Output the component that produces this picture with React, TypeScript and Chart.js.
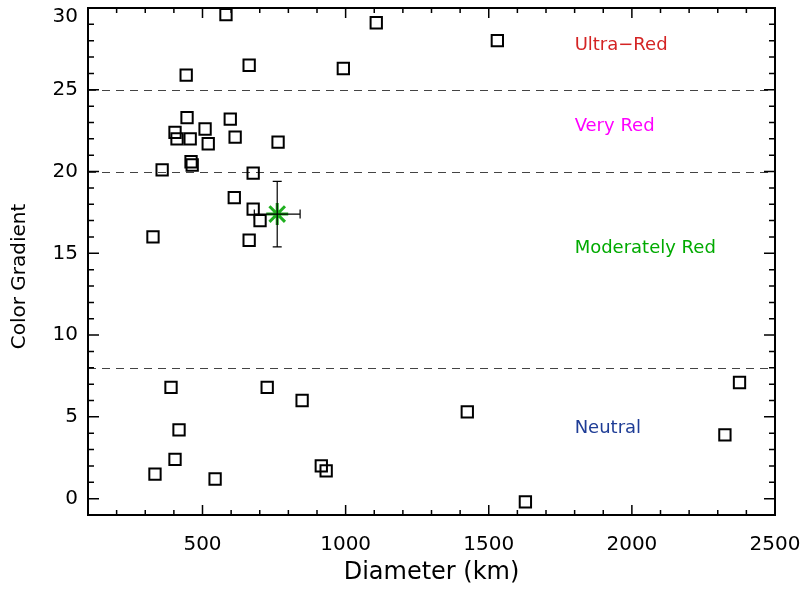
import React, { useEffect, useRef } from "react";
import { Chart, registerables } from "chart.js";

Chart.register(...registerables);

// Diameter (km) and color gradient of the objects (squares)
const diameters = [
  582, 1107, 1530, 663, 992, 443, 446, 597, 404, 509, 411, 457, 614, 520, 764,
  460, 464, 359, 677, 611, 677, 701, 663, 327, 390, 726, 848, 418, 404, 334,
  544, 915, 932, 1425, 1628, 2325, 2376,
];
const gradients = [
  29.6, 29.1, 28.0, 26.5, 26.3, 25.9, 23.3, 23.2, 22.4, 22.6, 22.0, 22.0, 22.1,
  21.7, 21.8, 20.6, 20.4, 20.1, 19.9, 18.4, 17.7, 17.0, 15.8, 16.0, 6.8, 6.8,
  6.0, 4.2, 2.4, 1.5, 1.2, 2.0, 1.7, 5.3, -0.2, 3.9, 7.1,
];

// Highlighted object (green star) with error bars
const starDiameter = [761];
const starGradient = [17.4];
const starDiameterErr = [80];
const starGradientErr = [2.0];

// Class boundaries and labels
const boundaries = [25, 20, 8];
const classNames = ["Ultra\u2212Red", "Very Red", "Moderately Red", "Neutral"];
const classLabelY = [27.7, 22.75, 15.3, 4.3];
const classLabelX = 1800;
const classColors = ["#d42424", "#ff00ff", "#00aa00", "#1f3d96"];

const xTicks = [500, 1000, 1500, 2000, 2500];
const yTicks = [0, 5, 10, 15, 20, 25, 30];
const yTitle = "Color Gradient";

const FONT = "'DejaVu Sans', sans-serif";

const decorPlugin = {
  id: "decor",
  beforeDatasetsDraw(chart: any) {
    const { ctx, chartArea } = chart;
    const x = chart.scales.x;
    const y = chart.scales.y;
    ctx.save();
    ctx.strokeStyle = "#444";
    ctx.lineWidth = 1.2;
    ctx.setLineDash([8, 6]);
    boundaries.forEach((b) => {
      const py = Math.round(y.getPixelForValue(b)) + 0.5;
      ctx.beginPath();
      ctx.moveTo(chartArea.left, py);
      ctx.lineTo(chartArea.right, py);
      ctx.stroke();
    });
    ctx.setLineDash([]);
    ctx.font = `18px ${FONT}`;
    ctx.textAlign = "left";
    ctx.textBaseline = "middle";
    classNames.forEach((n, i) => {
      ctx.fillStyle = classColors[i];
      ctx.fillText(n, x.getPixelForValue(classLabelX), y.getPixelForValue(classLabelY[i]));
    });
    ctx.restore();
  },
  afterDatasetDraw(chart: any, args: any) {
    if (args.index !== 0) return;
    const { ctx } = chart;
    const x = chart.scales.x;
    const y = chart.scales.y;
    ctx.save();
    ctx.strokeStyle = "#000";
    ctx.lineWidth = 1.2;
    starDiameter.forEach((d, i) => {
      const cx = x.getPixelForValue(d);
      const cy = y.getPixelForValue(starGradient[i]);
      const x0 = x.getPixelForValue(d - starDiameterErr[i]);
      const x1 = x.getPixelForValue(d + starDiameterErr[i]);
      const y0 = y.getPixelForValue(starGradient[i] + starGradientErr[i]);
      const y1 = y.getPixelForValue(starGradient[i] - starGradientErr[i]);
      const cap = 4.5;
      ctx.beginPath();
      ctx.moveTo(x0, cy); ctx.lineTo(x1, cy);
      ctx.moveTo(x0, cy - cap); ctx.lineTo(x0, cy + cap);
      ctx.moveTo(x1, cy - cap); ctx.lineTo(x1, cy + cap);
      ctx.moveTo(cx, y0); ctx.lineTo(cx, y1);
      ctx.moveTo(cx - cap, y0); ctx.lineTo(cx + cap, y0);
      ctx.moveTo(cx - cap, y1); ctx.lineTo(cx + cap, y1);
      ctx.stroke();
    });
    ctx.restore();
  },
  afterDraw(chart: any) {
    const { ctx, chartArea } = chart;
    const x = chart.scales.x;
    const y = chart.scales.y;
    const { left, right, top, bottom } = chartArea;
    ctx.save();
    ctx.strokeStyle = "#000";
    ctx.lineWidth = 1.5;
    ctx.beginPath();
    for (let v = 200; v < 2500; v += 100) {
      const px = x.getPixelForValue(v);
      const len = v % 500 === 0 ? 10 : 5;
      ctx.moveTo(px, bottom); ctx.lineTo(px, bottom - len);
      ctx.moveTo(px, top); ctx.lineTo(px, top + len);
    }
    for (let v = 0; v < 30; v += 1) {
      const py = y.getPixelForValue(v);
      const len = v % 5 === 0 ? 11 : 6;
      ctx.moveTo(left, py); ctx.lineTo(left + len, py);
      ctx.moveTo(right, py); ctx.lineTo(right - len, py);
    }
    ctx.stroke();
    ctx.lineWidth = 2;
    ctx.strokeRect(left, top, right - left, bottom - top);

    // y tick labels
    ctx.fillStyle = "#000";
    ctx.font = `20px ${FONT}`;
    ctx.textAlign = "right";
    yTicks.forEach((v) => {
      const py = y.getPixelForValue(v);
      if (py - 8 < top) {
        ctx.textBaseline = "top";
        ctx.fillText(String(v), left - 10, top - 1);
      } else {
        ctx.textBaseline = "middle";
        ctx.fillText(String(v), left - 10, py);
      }
    });
    // y title
    ctx.font = `20px ${FONT}`;
    ctx.textAlign = "center";
    ctx.textBaseline = "middle";
    ctx.translate(20, (top + bottom) / 2 + 15);
    ctx.rotate(-Math.PI / 2);
    ctx.fillText(yTitle, 0, 0);
    ctx.restore();
  },
};

export default function App() {
  const ref = useRef<HTMLCanvasElement | null>(null);
  useEffect(() => {
    if (!ref.current) return;
    const squares = diameters.map((d, i) => ({ x: d, y: gradients[i] }));
    const star = starDiameter.map((d, i) => ({ x: d, y: starGradient[i] }));
    const chart = new Chart(ref.current, {
      type: "scatter",
      data: {
        datasets: [
          {
            data: squares,
            pointStyle: "rect",
            radius: 8,
            borderColor: "#000",
            backgroundColor: "rgba(0,0,0,0)",
            borderWidth: 2,
          },
          {
            data: star,
            pointStyle: "star",
            radius: 11,
            borderColor: "#1fb01f",
            backgroundColor: "#1fb01f",
            borderWidth: 3,
          },
        ],
      },
      options: {
        responsive: false,
        animation: false,
        events: [],
        layout: { autoPadding: false, padding: { top: 8, right: 32, left: 0, bottom: 0 } },
        plugins: { legend: { display: false }, tooltip: { enabled: false } },
        scales: {
          x: {
            type: "linear",
            min: 100,
            max: 2500,
            position: "bottom",
            afterBuildTicks: (s: any) => {
              s.ticks = xTicks.map((v) => ({ value: v }));
            },
            afterFit: (s: any) => {
              s.height = 75;
              s.paddingLeft = 0; s.paddingRight = 0; s.paddingTop = 0; s.paddingBottom = 0;
            },
            grid: { display: false, drawTicks: false },
            border: { display: false },
            ticks: {
              color: "#000",
              font: { family: FONT, size: 20 },
              padding: 18,
              maxRotation: 0,
              callback: (v: any) => String(v),
            },
            title: {
              display: true,
              text: "Diameter (km)",
              color: "#000",
              font: { family: FONT, size: 24 },
              padding: { top: 0, bottom: 3 },
            },
          },
          y: {
            type: "linear",
            min: -1,
            max: 30,
            position: "left",
            afterBuildTicks: (s: any) => {
              s.ticks = yTicks.map((v) => ({ value: v }));
            },
            afterFit: (s: any) => {
              s.width = 88;
              s.paddingLeft = 0; s.paddingRight = 0; s.paddingTop = 0; s.paddingBottom = 0;
            },
            grid: { display: false, drawTicks: false },
            border: { display: false },
            ticks: { display: false },
            title: { display: false },
          },
        },
      },
      plugins: [decorPlugin],
    });
    return () => chart.destroy();
  }, []);
  return (
    <div style={{ position: "absolute", left: 0, top: 0, width: 807, height: 590, background: "#fff" }}>
      <canvas ref={ref} width={807} height={590} style={{ width: 807, height: 590 }} />
    </div>
  );
}
